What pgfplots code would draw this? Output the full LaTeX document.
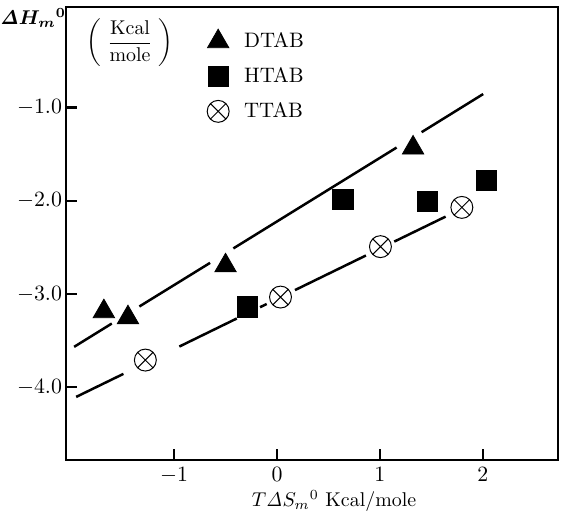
\documentclass[border=0pt]{standalone}
\usepackage{amsmath}
\usepackage{pgfplots}
\pgfplotsset{compat=1.18}
\usetikzlibrary{plotmarks}
\begin{document}
\begin{tikzpicture}
\begin{axis}[
  scale only axis,
  width=246bp, height=226.5bp,
  xmin=-2.05, xmax=2.73,
  ymin=-4.78, ymax=0.08,
  xtick={-1,0,1,2},
  ytick={-1,-2,-3,-4},
  tick align=inside,
  xtick pos=lower, ytick pos=left,
  major tick length=5.5bp,
  every tick/.style={black, line width=1.2pt},
  axis line style={line width=1.1pt},
  tick label style={font=\fontsize{11}{13}\selectfont},
  y tick label style={/pgf/number format/fixed, /pgf/number format/fixed zerofill, /pgf/number format/precision=1, xshift=1.5pt},
  legend style={at={(rel axis cs:0.27,0.962)}, anchor=north west, draw=none, fill=none, row sep=4.5pt, font=\fontsize{10.5}{12.5}\selectfont},
  legend cell align=left,
  legend image code/.code={\draw[#1] plot coordinates {(0pt,0pt)}; \path[draw=none,fill=none] (-6.5pt,-6pt) rectangle (11pt,6pt);},
  clip=false,
]
% fitted lines (broken around markers)
\addplot[black, line width=1.25pt, forget plot] coordinates {(-1.971,-3.566) (-1.605,-3.316)};
\addplot[black, line width=1.25pt, forget plot] coordinates {(-1.337,-3.133) (-0.650,-2.665)};
\addplot[black, line width=1.25pt, forget plot] coordinates {(-0.424,-2.510) (1.162,-1.428)};
\addplot[black, line width=1.25pt, forget plot] coordinates {(1.405,-1.263) (2.003,-0.854)};
\addplot[black, line width=1.25pt, forget plot] coordinates {(-1.951,-4.103) (-1.492,-3.856)};
\addplot[black, line width=1.25pt, forget plot] coordinates {(-0.949,-3.563) (-0.391,-3.262)};
\addplot[black, line width=1.25pt, forget plot] coordinates {(-0.165,-3.141) (-0.100,-3.106)};
\addplot[black, line width=1.25pt, forget plot] coordinates {(0.175,-2.957) (0.864,-2.586)};
\addplot[black, line width=1.25pt, forget plot] coordinates {(1.139,-2.437) (1.638,-2.169)};
% data
\addplot[only marks, mark=triangle*, mark size=6.2pt, mark options={fill=black, draw=black}] coordinates {
(-1.682,-3.187) (-1.448,-3.252) (-0.500,-2.695) (1.322,-1.431)};
\addlegendentry{DTAB}
\addplot[only marks, mark=square*, mark size=5.1pt, mark options={fill=black, draw=black}] coordinates {
(-0.285,-3.136) (0.641,-1.982) (1.458,-2.004) (2.036,-1.778)};
\addlegendentry{HTAB}
\addplot[only marks, mark=otimes*, mark size=5.5pt, mark options={fill=white, draw=black, line width=0.5pt}] coordinates {
(-1.279,-3.708) (0.034,-3.032) (1.005,-2.491) (1.796,-2.070)};
\addlegendentry{TTAB}
\end{axis}
\node[inner sep=1pt] at ([shift={(-16.5bp,-5.5bp)}]current axis.north west) {$\boldsymbol{\mathit{\Delta}H_{m}{}^{0}}$};
\node at ([shift={(32bp,-18bp)}]current axis.north west) {$\displaystyle\left(\;\frac{\mathrm{Kcal}}{\mathrm{mole}}\;\right)$};
\node[inner sep=1pt] at ([shift={(134bp,-20.5bp)}]current axis.south west) {$T\mathit{\Delta}S_{m}{}^{0}$ Kcal/mole};
\pgfresetboundingbox
\path ([shift={(-33bp,-30.5bp)}]current axis.south west) rectangle ([shift={(4bp,3.5bp)}]current axis.north east);
\end{tikzpicture}
\end{document}
